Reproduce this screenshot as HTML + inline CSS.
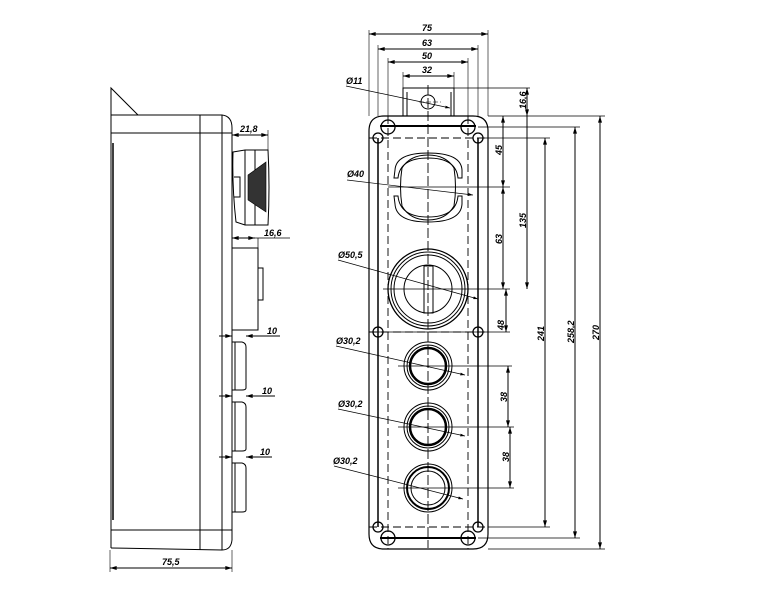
<!DOCTYPE html>
<html><head><meta charset="utf-8"><style>
html,body{margin:0;padding:0;background:#fff;}
svg{display:block;}
text{font-family:"Liberation Sans",sans-serif;font-size:9px;font-weight:bold;font-style:italic;fill:#000;}
</style></head><body>
<svg width="762" height="605" viewBox="0 0 762 605" xmlns="http://www.w3.org/2000/svg">
<defs>
<marker id="a" viewBox="0 0 10 6" refX="10" refY="3" markerWidth="7" markerHeight="4" orient="auto-start-reverse"><path d="M0,0L10,3L0,6z" fill="#000"/></marker>
</defs>
<g fill="none" stroke="#000" stroke-width="1">
<!-- SIDE VIEW -->
<path d="M111,88 L111,115 L138,115 Z" stroke-width="1"/>
<path d="M111,88 L111,548"/>
<path d="M113,143 L113,520" stroke-width="1.5"/>
<path d="M111,115 L222,115 Q232,116 232,128 L232,540 Q231,550 222,550 L111,548"/>
<path d="M111,133 L232,133"/>
<path d="M111,530 L232,530"/>
<path d="M200,115 L200,550"/>
<path d="M222,115 L222,550"/>
<!-- mushroom -->
<path d="M233,152 L245,150 L268,150 Q270,187 268,225 L245,225 L236,222 Q232,187 233,152 Z"/>
<path d="M255,150 L255,225"/>
<path d="M245,150 L245,225"/>
<path d="M234,177 L240,177 L240,197 L234,197"/>
<path d="M248,175 L266,162 L266,212 L248,200 Z" fill="#333" stroke-width="0.6"/>
<!-- selector -->
<rect x="232" y="248" width="26" height="82"/>
<rect x="258" y="268" width="5" height="32"/>
<!-- buttons -->
<path d="M232,342 L242,342 Q246,343 246,347 L246,388 Q246,390 242,390 L232,390"/>
<path d="M235,342 L235,390"/>
<path d="M232,402 L242,402 Q246,403 246,407 L246,449 Q246,451 242,451 L232,451"/>
<path d="M235,402 L235,451"/>
<path d="M232,463 L242,463 Q246,464 246,468 L246,510 Q246,512 242,512 L232,512"/>
<path d="M235,463 L235,512"/>
<!-- side dims -->
<path d="M232,135 L268,135" marker-start="url(#a)" marker-end="url(#a)"/>
<path d="M268,130 L268,150" stroke-width="0.6"/>
<path d="M232,238 L255,238" marker-start="url(#a)" marker-end="url(#a)"/>
<path d="M255,238 L290,238 M258,238 L258,248" stroke-width="0.7"/>
<path d="M219,336 L232,336" marker-end="url(#a)"/><path d="M260,336 L246,336" marker-end="url(#a)"/><path d="M246,336 L280,336"/>
<path d="M219,396 L232,396" marker-end="url(#a)"/><path d="M260,396 L246,396" marker-end="url(#a)"/><path d="M246,396 L275,396"/>
<path d="M219,457 L232,457" marker-end="url(#a)"/><path d="M260,457 L246,457" marker-end="url(#a)"/><path d="M246,457 L272,457"/>
<path d="M110,550 L110,572 M232,550 L232,572" stroke-width="0.6"/>
<path d="M110,568 L232,568" marker-start="url(#a)" marker-end="url(#a)"/>

<!-- FRONT VIEW -->
<path d="M369,34 L488,34" marker-start="url(#a)" marker-end="url(#a)"/>
<path d="M378,49 L478,49" marker-start="url(#a)" marker-end="url(#a)"/>
<path d="M388,62 L468,62" marker-start="url(#a)" marker-end="url(#a)"/>
<path d="M403,76 L454,76" marker-start="url(#a)" marker-end="url(#a)"/>
<path d="M369,30 L369,116 M488,30 L488,116 M378,45 L378,116 M478,45 L478,116 M388,58 L388,116 M468,58 L468,116 M403,72 L403,88 M454,72 L454,88" stroke-width="0.6"/>
<rect x="403" y="88" width="51" height="28"/>
<path d="M407,92 L407,116 M451,92 L451,116"/>
<circle cx="428" cy="102" r="7"/>
<path d="M419,102 L441,102" stroke-dasharray="5 2" stroke-width="0.6"/>
<path d="M454,88 L530,88 M488,116 L605,116 M478,127 L580,127 M478,138 L550,138" stroke-width="0.8"/>
<!-- body -->
<path d="M384,116 L473,116 Q488,116 488,131 L488,534 Q488,549 473,549 L384,549 Q369,549 369,534 L369,131 Q369,116 384,116 Z" stroke-width="1.2"/>
<path d="M380,126 L476,126" stroke-width="2"/>
<path d="M380,538 L476,538" stroke-width="2"/>
<path d="M378,138 L378,527 M478,138 L478,527" stroke-width="1.5"/>
<g stroke-dasharray="8 4" stroke-width="0.9">
<path d="M388,116 L388,549 M468,116 L468,549"/>
<path d="M369,138 L488,138 M369,332 L488,332 M369,527 L488,527"/>
<path d="M428,85 L428,548" stroke-dasharray="10 3"/>
</g>
<path d="M369,332 L510,332 M488,527 L550,527 M488,549 L605,549 M478,538 L580,538" stroke-width="0.8"/>
<!-- holes -->
<g stroke-width="1.3">
<circle cx="378" cy="138" r="5"/><circle cx="478" cy="138" r="5"/>
<circle cx="378" cy="332" r="5"/><circle cx="478" cy="332" r="5"/>
<circle cx="378" cy="527" r="5"/><circle cx="478" cy="527" r="5"/>
<circle cx="388" cy="127" r="7"/><circle cx="468" cy="127" r="7"/>
<circle cx="388" cy="538" r="7"/><circle cx="468" cy="538" r="7"/>
</g>
<!-- mushroom -->
<path d="M395,170 Q396,153 428,153 Q461,153 462,170 L462,178 L458,178 Q456,158 428,158 Q400,158 398,178 L394,178 Z"/>
<path d="M395,204 Q396,222 428,222 Q461,222 462,204 L462,196 L458,196 Q456,217 428,217 Q400,217 398,196 L394,196 Z"/>
<path d="M402,168 Q399,187 402,206 M454,168 Q457,187 454,206"/>
<path d="M402,168 Q410,155 428,155 Q446,155 454,168 M402,206 Q410,220 428,220 Q446,220 454,206"/>
<!-- selector -->
<circle cx="428" cy="289" r="40" stroke-width="1.3"/>
<circle cx="428" cy="289" r="37"/>
<circle cx="428" cy="289" r="34"/>
<circle cx="428" cy="289" r="24"/>
<rect x="424" y="266" width="9" height="47"/>
<!-- buttons -->
<g>
<circle cx="428" cy="366" r="24"/><circle cx="428" cy="366" r="21"/><circle cx="428" cy="366" r="18" stroke-width="2.5"/>
<circle cx="428" cy="427" r="24"/><circle cx="428" cy="427" r="21"/><circle cx="428" cy="427" r="18" stroke-width="2.5"/>
<circle cx="428" cy="488" r="24"/><circle cx="428" cy="488" r="21" stroke-width="2"/><circle cx="428" cy="488" r="17"/>
</g>
<!-- center horizontal lines -->
<path d="M388,187 L510,187 M383,289 L510,289 M398,366 L512,366 M398,427 L514,427 M398,488 L514,488" stroke-width="0.8"/>
<!-- leaders -->
<path d="M346,86 L450,108" marker-end="url(#a)" stroke-width="0.7"/>
<path d="M347,180 L473,195" marker-end="url(#a)" stroke-width="0.7"/>
<path d="M338,260 L478,299" marker-end="url(#a)" stroke-width="0.7"/>
<path d="M336,346 L465,375" marker-end="url(#a)" stroke-width="0.7"/>
<path d="M338,409 L465,436" marker-end="url(#a)" stroke-width="0.7"/>
<path d="M334,466 L463,499" marker-end="url(#a)" stroke-width="0.7"/>
<!-- vertical dims -->
<path d="M527,88 L527,116" marker-start="url(#a)" marker-end="url(#a)"/>
<path d="M503,116 L503,187" marker-start="url(#a)" marker-end="url(#a)"/>
<path d="M503,187 L503,289" marker-start="url(#a)" marker-end="url(#a)"/>
<path d="M506,289 L506,332" marker-start="url(#a)" marker-end="url(#a)"/>
<path d="M508,366 L508,427" marker-start="url(#a)" marker-end="url(#a)"/>
<path d="M510,427 L510,488" marker-start="url(#a)" marker-end="url(#a)"/>
<path d="M527,116 L527,289" marker-end="url(#a)"/>
<path d="M545,138 L545,527" marker-start="url(#a)" marker-end="url(#a)"/>
<path d="M575,127 L575,538" marker-start="url(#a)" marker-end="url(#a)"/>
<path d="M600,116 L600,549" marker-start="url(#a)" marker-end="url(#a)"/>
</g>
<text x="240" y="132">21,8</text>
<text x="264" y="236">16,6</text>
<text x="267" y="334">10</text>
<text x="262" y="394">10</text>
<text x="260" y="455">10</text>
<text x="162" y="565">75,5</text>
<text x="422" y="31">75</text>
<text x="422" y="46">63</text>
<text x="422" y="59">50</text>
<text x="422" y="73">32</text>
<text x="346" y="84">Ø11</text>
<text x="347" y="177">Ø40</text>
<text x="338" y="258">Ø50,5</text>
<text x="336" y="344">Ø30,2</text>
<text x="338" y="407">Ø30,2</text>
<text x="333" y="464">Ø30,2</text>
<g>
<text transform="translate(526,109) rotate(-90)">16,6</text>
<text transform="translate(502,155) rotate(-90)">45</text>
<text transform="translate(502,244) rotate(-90)">63</text>
<text transform="translate(526,228) rotate(-90)">135</text>
<text transform="translate(504,330) rotate(-90)">48</text>
<text transform="translate(507,402) rotate(-90)">38</text>
<text transform="translate(509,462) rotate(-90)">38</text>
<text transform="translate(544,341) rotate(-90)">241</text>
<text transform="translate(574,343) rotate(-90)">258,2</text>
<text transform="translate(599,340) rotate(-90)">270</text>
</g>
</svg>
</body></html>
